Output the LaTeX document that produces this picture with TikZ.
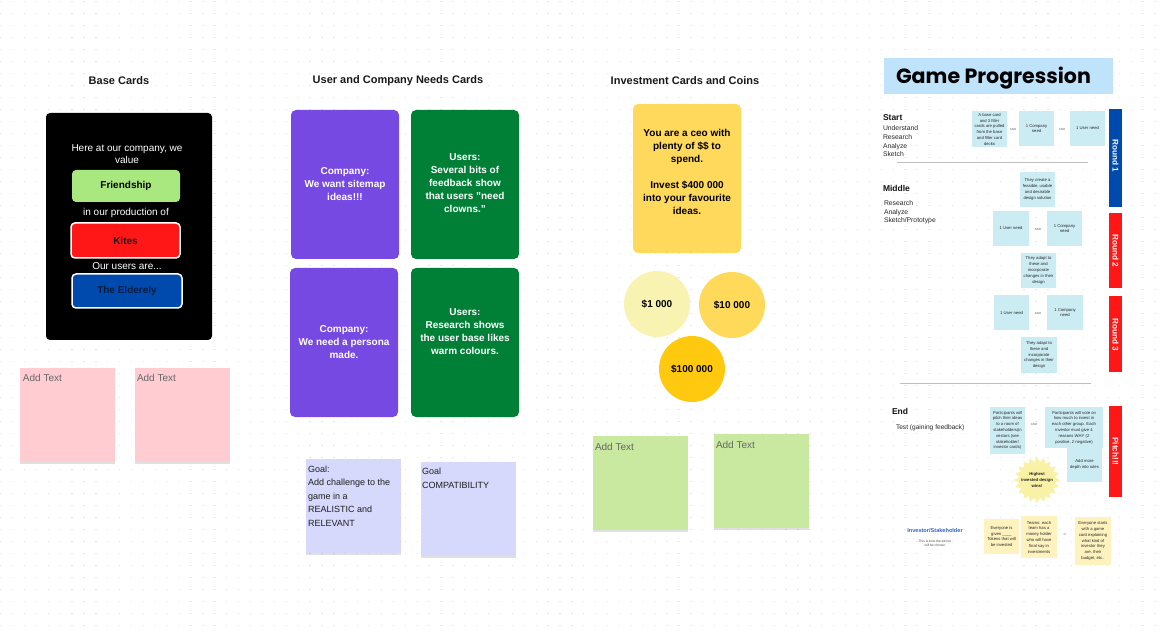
\documentclass[tikz,border=0pt]{standalone}
\usepackage{fontspec}
\setmainfont{Liberation Sans}
\newfontfamily\titlefont{Poppins}
\usetikzlibrary{shadows}

\definecolor{gridgray}{HTML}{E6E6E6}
\definecolor{friendgreen}{HTML}{A9E77F}
\definecolor{kitered}{HTML}{FF1616}
\definecolor{eldblue}{HTML}{004AAD}
\definecolor{eldtext}{HTML}{0A1B3D}
\definecolor{compurple}{HTML}{7649E3}
\definecolor{usergreen}{HTML}{008037}
\definecolor{investyellow}{HTML}{FFD95B}
\definecolor{coinpale}{HTML}{F9F3B1}
\definecolor{coinmid}{HTML}{FFD95A}
\definecolor{coindeep}{HTML}{FFC90F}
\definecolor{stickypink}{HTML}{FFCCD2}
\definecolor{stickylav}{HTML}{D6D8FC}
\definecolor{stickygreen}{HTML}{C9E8A0}
\definecolor{gptitle}{HTML}{BFE3FB}
\definecolor{gpcyan}{HTML}{CCECF4}
\definecolor{gpyellow}{HTML}{FEF3BE}
\definecolor{starfill}{HTML}{F9F1A5}
\definecolor{invblue}{HTML}{2F66D0}

\tikzset{
  sz/.style 2 args={minimum width=#1, minimum height=#2},
  griddots/.style={draw=gridgray, line width=1.3pt, dash pattern=on 1.3pt off 10.6pt},
  heading/.style={font=\fontsize{11}{13}\selectfont\bfseries, text=black!90},
  basetxt/.style={text=white, align=center, font=\fontsize{10}{12}\selectfont},
  chip/.style={rounded corners=4pt, font=\fontsize{10}{12}\selectfont\bfseries},
  needcard/.style={rounded corners=5pt, sz={108pt}{149pt}},
  cardtxt/.style={text=white, align=center, font=\fontsize{10}{13}\selectfont\bfseries},
  coin/.style={circle, minimum size=66pt, font=\fontsize{10}{12}\selectfont\bfseries},
  sticky/.style={sz={95pt}{94pt}, drop shadow={shadow xshift=0pt, shadow yshift=-2pt, opacity=0.12, fill=black}},
  addtxt/.style={anchor=west, text=black!60, font=\fontsize{10}{12}\selectfont},
  goaltxt/.style={anchor=north west, align=left, text=black!88, font=\fontsize{9}{13.5}\selectfont},
  gphead/.style={anchor=west, text=black!92, font=\fontsize{8.5}{10}\selectfont\bfseries},
  gplist/.style={anchor=north west, align=left, text=black!85, font=\fontsize{6.8}{8.6}\selectfont},
  gpcard/.style={fill=gpcyan},
  gpnote/.style={fill=gpyellow},
  tinytxt/.style={align=center, text=black!85, font=\fontsize{4.2}{5.8}\selectfont},
  andlbl/.style={text=black!60, font=\fontsize{3}{3.5}\selectfont},
  sepline/.style={draw=black!25, line width=1pt},
  roundbar/.style={sz={13pt}{#1}},
  roundlbl/.style={rotate=-90, text=white, font=\fontsize{8.2}{10}\selectfont\bfseries},
  every node/.style={inner sep=0pt, outer sep=0pt}
}

\begin{document}
\begin{tikzpicture}[x=1pt, y=-1pt]
\useasboundingbox (0,0) rectangle (1165,636);
\fill[white] (0,0) rectangle (1165,636);

% dotted canvas grid
\foreach \r in {0,...,53}{
  \draw[griddots] (0,{1.7+12*\r}) -- (1165,{1.7+12*\r});
}

% ---------- column headings ----------
\node[heading] (hBase)   at (119,81) {Base Cards};
\node[heading] (hNeeds)  at (398,81) {User and Company Needs Cards};
\node[heading] (hInvest) at (685,81) {Investment Cards and Coins};

% ---------- base card ----------
\node[fill=black, rounded corners=4pt, sz={166pt}{227pt}] (baseCard) at (129,226.5) {};
\node[basetxt] (baseIntro) at (127,154) {Here at our company, we\\value};
\node[chip, fill=friendgreen, sz={108pt}{32pt}, text=black] (friend) at (126,186) {Friendship};
\node[basetxt] (baseMid) at (126,213) {in our production of};
\node[chip, fill=kitered, draw=white, line width=1.5pt, sz={109pt}{35pt}, text=black!90] (kites) at (125.5,240.5) {Kites};
\node[basetxt] (baseUsers) at (127,266) {Our users are...};
\node[chip, fill=eldblue, draw=white, line width=1.5pt, sz={110pt}{34pt}, text=eldtext] (elderly) at (127,291) {The Elderely};

% pink stickies
\node[sticky, fill=stickypink] (pinkA) at (67.5,415) {};
\node[addtxt] (pinkAtxt) at (23,378) {Add Text};
\node[sticky, fill=stickypink] (pinkB) at (182.5,415) {};
\node[addtxt] (pinkBtxt) at (137,378) {Add Text};

% ---------- user and company needs cards ----------
\node[needcard, fill=compurple] (compA) at (345,184.5) {};
\node[cardtxt] (compAtxt) at (345,184) {Company:\\We want sitemap\\ideas!!!};
\node[needcard, fill=usergreen] (userA) at (465,184.5) {};
\node[cardtxt] (userAtxt) at (465,183.5) {Users:\\Several bits of\\feedback show\\that users "need\\clowns."};
\node[needcard, fill=compurple] (compB) at (344,342.5) {};
\node[cardtxt] (compBtxt) at (344,342) {Company:\\We need a persona\\made.};
\node[needcard, fill=usergreen] (userB) at (465,342.5) {};
\node[cardtxt] (userBtxt) at (465,331.5) {Users:\\Research shows\\the user base likes\\warm colours.};

% goal stickies
\node[sticky, fill=stickylav] (goalA) at (353,506) {};
\node[goaltxt] (goalAtxt) at (308,465.5) {Goal:\\Add challenge to the\\game in a\\REALISTIC and\\RELEVANT};
\node[sticky, fill=stickylav] (goalB) at (468,509) {};
\node[goaltxt] (goalBtxt) at (422,468) {Goal\\COMPATIBILITY};

% ---------- investment cards and coins ----------
\node[needcard, fill=investyellow] (invCard) at (687,178.5) {};
\node[cardtxt, text=black] (invTxt) at (687,172) {You are a ceo with\\plenty of \$\$ to\\spend.\\[13pt]Invest \$400 000\\into your favourite\\ideas.};
\node[coin, fill=coinpale] (coinA) at (657,304) {\$1 000};
\node[coin, fill=coinmid]  (coinB) at (732,305) {\$10 000};
\node[coin, fill=coindeep] (coinC) at (692,369) {\$100 000};

% green stickies
\node[sticky, fill=stickygreen] (greenA) at (640,482.5) {};
\node[addtxt] (greenAtxt) at (595,447) {Add Text};
\node[sticky, fill=stickygreen] (greenB) at (761,480.5) {};
\node[addtxt] (greenBtxt) at (716,445) {Add Text};

% ---------- game progression ----------
\node[fill=gptitle, sz={229pt}{36pt}] (gpBox) at (998.5,76) {};
\node[anchor=west, text=black, font=\titlefont\bfseries\fontsize{20.6}{24}\selectfont] (gpTitle) at (896,78) {Game Progression};

% start phase
\node[gphead] (start) at (883,118) {Start};
\node[gplist] (startList) at (883,126) {Understand\\Research\\Analyze\\Sketch};
\node[gpcard, sz={35pt}{36pt}] (baseDraw) at (989.5,129) {};
\begin{scope}
  \clip (972,111) rectangle (1007,146.5);
  \node[tinytxt] (baseDrawTxt) at (989.5,129.3) {A base card\\and 3 filler\\cards are pulled\\from the base\\and filler card\\decks};
\end{scope}
\node[andlbl] (and1) at (1013,129) {AND};
\node[gpcard, sz={35pt}{35pt}] (startComp) at (1036.5,128.5) {};
\node[tinytxt] (startCompTxt) at (1036.5,128.5) {1 Company\\need};
\node[andlbl] (and2) at (1062,129) {AND};
\node[gpcard, sz={35pt}{35pt}] (startUser) at (1087.5,128.5) {};
\node[tinytxt] (startUserTxt) at (1087.5,128.5) {1 User need};
\node[fill=eldblue, roundbar=98pt] (round1) at (1115.5,158) {};
\node[roundlbl] (round1Txt) at (1115.5,156) {Round 1};

\coordinate (sepA1) at (897,163);
\coordinate (sepA2) at (1088,163);
\draw[sepline] (sepA1) -- (sepA2);

% middle phase
\node[gphead] (middle) at (883,188) {Middle};
\node[gplist] (middleList) at (884,200.5) {Research\\Analyze\\Sketch/Prototype};
\node[gpcard, sz={35pt}{35pt}] (create) at (1037.5,189.5) {};
\node[tinytxt] (createTxt) at (1037.5,189.5) {They create a\\feasible, usable\\and desirable\\design solution};
\node[gpcard, sz={36pt}{35pt}] (midUserA) at (1011,228.5) {};
\node[tinytxt] (midUserATxt) at (1011,228.5) {1 User need};
\node[andlbl] (and3) at (1038,229) {AND};
\node[gpcard, sz={35pt}{35pt}] (midCompA) at (1064.5,228.5) {};
\node[tinytxt] (midCompATxt) at (1064.5,228.5) {1 Company\\need};
\node[gpcard, sz={35pt}{35pt}] (adaptA) at (1038.5,270.5) {};
\node[tinytxt] (adaptATxt) at (1038.5,270.5) {They adapt to\\these and\\incorporate\\changes in their\\design};
\node[fill=kitered, roundbar=75pt] (round2) at (1115.5,250.5) {};
\node[roundlbl] (round2Txt) at (1115.5,251) {Round 2};

\node[gpcard, sz={35pt}{35pt}] (midUserB) at (1011.5,312.5) {};
\node[tinytxt] (midUserBTxt) at (1011.5,312.5) {1 User need};
\node[andlbl] (and4) at (1038,313) {AND};
\node[gpcard, sz={36pt}{35pt}] (midCompB) at (1065,312.5) {};
\node[tinytxt] (midCompBTxt) at (1065,312.5) {1 Company\\need};
\node[gpcard, sz={36pt}{36pt}] (adaptB) at (1039,355) {};
\node[tinytxt] (adaptBTxt) at (1039,355) {They adapt to\\these and\\incorporate\\changes in their\\design};
\node[fill=kitered, roundbar=76pt] (round3) at (1115.5,334) {};
\node[roundlbl] (round3Txt) at (1115.5,335) {Round 3};

\coordinate (sepB1) at (900,383);
\coordinate (sepB2) at (1091,383);
\draw[sepline] (sepB1) -- (sepB2);

% end phase
\node[gphead] (endPhase) at (892,411) {End};
\node[anchor=west, text=black!85, font=\fontsize{6.6}{8}\selectfont] (endTest) at (896,428) {Test (gaining feedback)};
\node[gpcard, sz={35pt}{47pt}] (pitch) at (1007.5,430.5) {};
\node[tinytxt] (pitchTxt) at (1007.5,430.5) {Participants will\\pitch their ideas\\to a room of\\stakeholders(in\\vestors (see\\stakeholder/\\investor cards)};
\node[andlbl] (and5) at (1034,424) {AND};
\node[gpcard, sz={58pt}{41pt}] (vote) at (1074,427.5) {};
\node[tinytxt] (voteTxt) at (1074,427.5) {Participants will vote on\\how much to invest in\\each other group. Each\\investor must give 4\\reasons WHY (2\\positive, 2 negative)};
\node[gpcard, sz={35pt}{35pt}] (depth) at (1084.5,464.5) {};
\node[tinytxt] (depthTxt) at (1084.5,464.5) {Add more\\depth into rules};
\coordinate (starC) at (1037,480);
\fill[starfill, shift={(starC)}] (0:23)
  \foreach \i in {1,...,39}{ -- ({\i*9}:{20.5+2.5*cos(\i*180)}) } -- cycle;
\node[align=center, text=black!88, font=\fontsize{4.2}{5.6}\selectfont\bfseries] (starTxt) at (starC) {Highest\\invested design\\wins!};
\node[fill=kitered, roundbar=91pt] (pitchBar) at (1115.5,451.5) {};
\node[roundlbl] (pitchBarTxt) at (1115.5,451.5) {Pitch!!!};

% investor / stakeholder
\node[text=invblue, font=\fontsize{5.6}{6.5}\selectfont\bfseries] (invTitle) at (935,531) {Investor/Stakeholder};
\node[align=center, text=black!70, font=\fontsize{3.3}{4.2}\selectfont] (invNote) at (935,543) {This is how the winner\\will be chosen};
\node[gpnote, sz={35pt}{35pt}] (tokens) at (1001.5,536.5) {};
\node[tinytxt] (tokensTxt) at (1001.5,536.5) {Everyone is\\given \_\_\_\_\\Tokens that will\\be invested};
\node[gpnote, sz={36pt}{42pt}] (teams) at (1039,537) {};
\node[tinytxt] (teamsTxt) at (1039,537) {Teams: each\\team has a\\money holder\\who will have\\final say in\\investments};
\node[andlbl] (orLbl) at (1065,535) {or};
\node[gpnote, sz={36pt}{48pt}] (gameCard) at (1093,541) {};
\node[tinytxt] (gameCardTxt) at (1093,541) {Everyone starts\\with a game\\card explaining\\what kind of\\investor they\\are, their\\budget, etc..};

\end{tikzpicture}
\end{document}
